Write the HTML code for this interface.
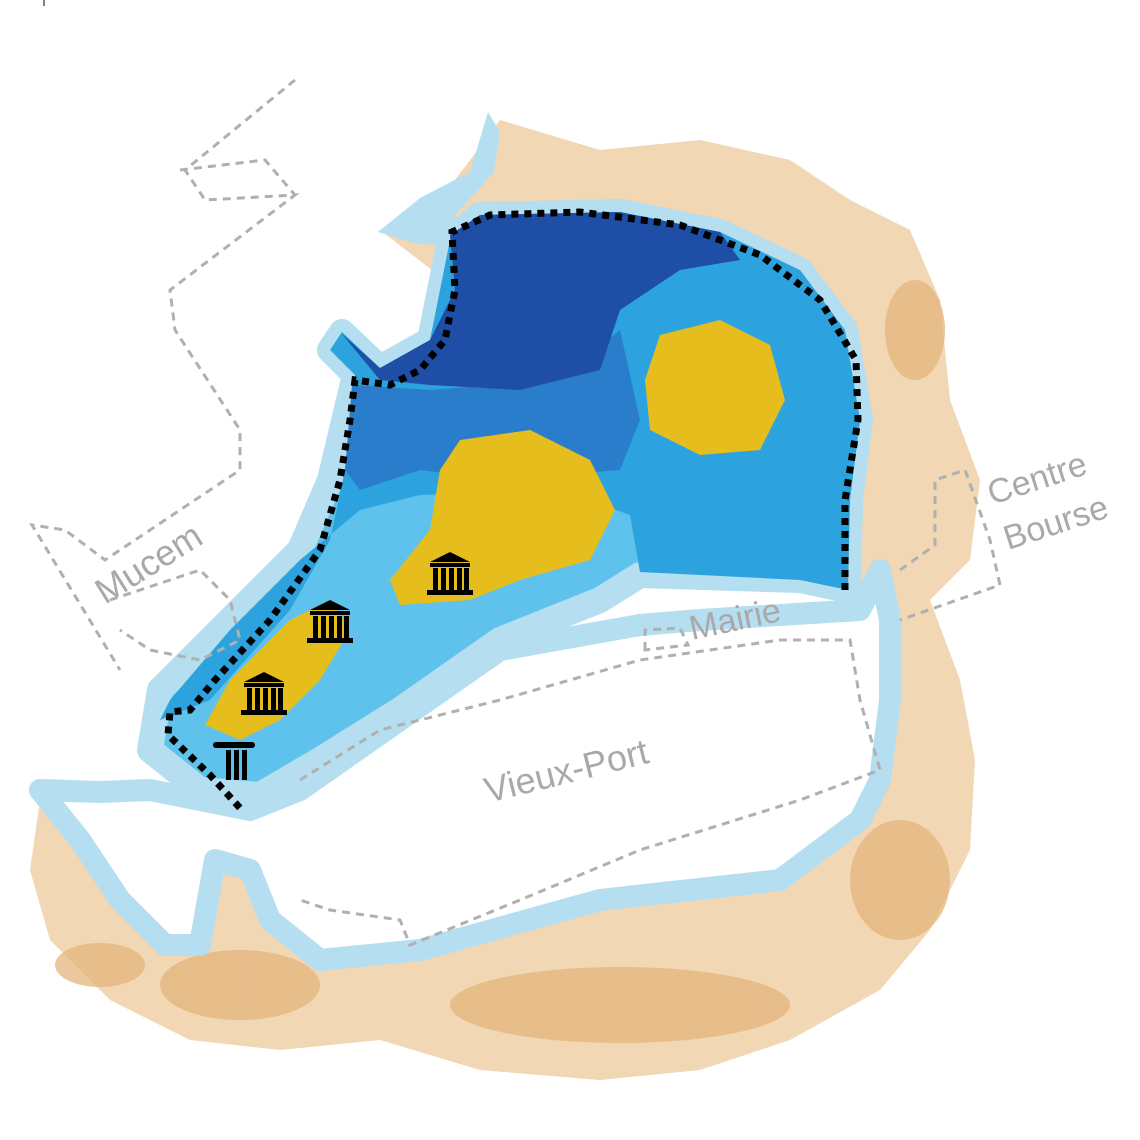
<!DOCTYPE html>
<html><head><meta charset="utf-8"><style>
html,body{margin:0;padding:0;background:#fff}
svg{display:block}
text{font-family:"Liberation Sans",sans-serif;fill:#a9a9a9}
</style></head><body>
<svg width="1140" height="1140" viewBox="0 0 1140 1140" xmlns="http://www.w3.org/2000/svg">
<defs>
<g id="mus">
<path d="M0,-14 L20,-24 L40,-14 Z" fill="#000"/>
<rect x="0" y="-13" width="40" height="4" fill="#000"/>
<rect x="3" y="-8" width="5" height="22" fill="#000"/>
<rect x="11" y="-8" width="5" height="22" fill="#000"/>
<rect x="19" y="-8" width="5" height="22" fill="#000"/>
<rect x="27" y="-8" width="5" height="22" fill="#000"/>
<rect x="34" y="-8" width="5" height="22" fill="#000"/>
<rect x="-3" y="14" width="46" height="5" fill="#000"/>
</g>
<path id="blue" d="M355,375 L330,350 L342,332 L380,368 L430,340 L450,240 L480,215 L620,212 L720,232 L800,270 L845,330 L860,420 L850,500 L848,590 L800,580 L640,575 L600,600 L500,640 L400,710 L320,760 L260,795 L200,790 L150,750 L160,690 L230,620 L300,550 L330,480 Z"/>
<path id="harb" d="M40,790 L100,792 L150,790 L200,800 L250,810 L300,790 L400,720 L500,650 L640,625 L700,620 L860,610 L880,570 L890,620 L890,700 L880,780 L860,820 L780,880 L600,900 L420,950 L320,960 L270,920 L250,870 L215,860 L200,945 L165,945 L120,900 L80,840 Z"/>
</defs>
<line x1="44" y1="0" x2="44" y2="6" stroke="#000" stroke-width="1"/>
<!-- beige land -->
<path d="M380,230 L440,200 L500,120 L600,150 L700,140 L790,160 L850,200 L910,230 L940,300 L950,400 L980,480 L970,560 L930,600 L960,680 L975,760 L970,850 L930,930 L880,990 L790,1040 L700,1070 L600,1080 L480,1070 L380,1040 L280,1050 L190,1040 L110,1000 L50,940 L30,870 L40,800 L300,790 L860,600 Z" fill="#f1d7b3"/>
<g fill="#e3b47c" opacity="0.75">
<ellipse cx="620" cy="1005" rx="170" ry="38"/>
<ellipse cx="240" cy="985" rx="80" ry="35"/>
<ellipse cx="900" cy="880" rx="50" ry="60"/>
<ellipse cx="915" cy="330" rx="30" ry="50"/>
<ellipse cx="100" cy="965" rx="45" ry="22"/>
</g>
<!-- top arm wisp -->
<path d="M378,232 L420,198 L470,172 L488,112 L500,132 L494,172 L456,214 L442,245 L418,244 Z" fill="#b5def1"/>
<!-- harbour -->
<use href="#harb" fill="#fff" stroke="#b5def1" stroke-width="22" stroke-linejoin="round"/>
<!-- blue halo + fills -->
<use href="#blue" fill="#5fc2ec" stroke="#b5def1" stroke-width="26" stroke-linejoin="round"/>
<path d="M355,375 L330,350 L342,332 L380,368 L430,340 L450,240 L480,215 L620,212 L720,232 L800,270 L845,330 L860,420 L850,500 L848,590 L800,580 L640,572 L630,515 L560,490 L420,495 L360,510 L300,560 L230,630 L170,700 L160,720 L210,700 L290,610 L330,540 L345,470 Z" fill="#2ca3de"/>
<path d="M352,385 L430,390 L560,380 L620,330 L640,420 L620,470 L500,480 L420,470 L360,490 L345,470 Z" fill="#2a7dca"/>
<path d="M450,235 L480,215 L620,212 L720,232 L740,260 L680,270 L620,310 L600,370 L520,390 L430,385 L380,380 L342,334 L380,368 L430,340 L455,290 Z" fill="#1f4ea6"/>
<!-- yellow -->
<path d="M660,335 L720,320 L770,345 L785,400 L760,450 L700,455 L650,430 L645,380 Z" fill="#e5bd1c"/>
<path d="M460,440 L530,430 L590,460 L615,510 L590,560 L520,580 L470,600 L400,605 L390,580 L430,530 L440,470 Z" fill="#e5bd1c"/>
<path d="M290,620 L330,600 L350,630 L320,680 L280,720 L240,740 L205,725 L230,680 Z" fill="#e5bd1c"/>
<!-- gray dashed -->
<g fill="none" stroke="#b0b0b0" stroke-width="3" stroke-dasharray="8,6">
<path d="M295,80 L185,170 L205,200 L295,195 L170,290 L175,330 L240,430 L240,470 L105,560 L65,530 L32,525 L120,670"/>
<path d="M180,170 L265,160 L295,195"/>
<path d="M110,600 L200,570 L230,600 L240,640 L200,660 L150,650 L120,630"/>
<path d="M300,780 L380,730 L500,700 L640,660 L780,640 L850,640 L860,700 L880,770 L800,800 L640,850 L520,900 L410,945 L400,920 L330,910 L300,900"/>
<path d="M645,650 L645,630 L680,628 L688,645 Z"/>
<path d="M900,570 L935,545 L935,480 L965,470 L990,540 L1000,585 L900,620"/>
</g>
<!-- black dotted border -->
<path d="M845,590 L845,500 L858,420 L856,360 L820,300 L760,255 L680,225 L580,212 L490,215 L452,232 L455,290 L445,340 L420,370 L390,385 L355,380 L350,420 L340,480 L320,550 L270,620 L215,680 L190,710 L170,712 L168,735 L210,775 L240,808" fill="none" stroke="#000" stroke-width="7" stroke-dasharray="7,6"/>
<!-- museums -->
<use href="#mus" x="430" y="576"/>
<use href="#mus" x="310" y="624"/>
<use href="#mus" x="244" y="696"/>
<g fill="#000">
<rect x="213" y="742" width="42" height="6" rx="3"/>
<rect x="226" y="750" width="5" height="30"/>
<rect x="234" y="750" width="5" height="30"/>
<rect x="242" y="750" width="5" height="30"/>
</g>
<!-- labels -->
<text x="105" y="605" font-size="36" transform="rotate(-32 105 605)">Mucem</text>
<text x="692" y="640" font-size="34" transform="rotate(-12 692 640)">Mairie</text>
<text x="488" y="803" font-size="36" transform="rotate(-14 488 803)">Vieux-Port</text>
<text x="992" y="505" font-size="34" transform="rotate(-18 992 505)">Centre</text>
<text x="1008" y="550" font-size="34" transform="rotate(-18 1008 550)">Bourse</text>
</svg>
</body></html>
